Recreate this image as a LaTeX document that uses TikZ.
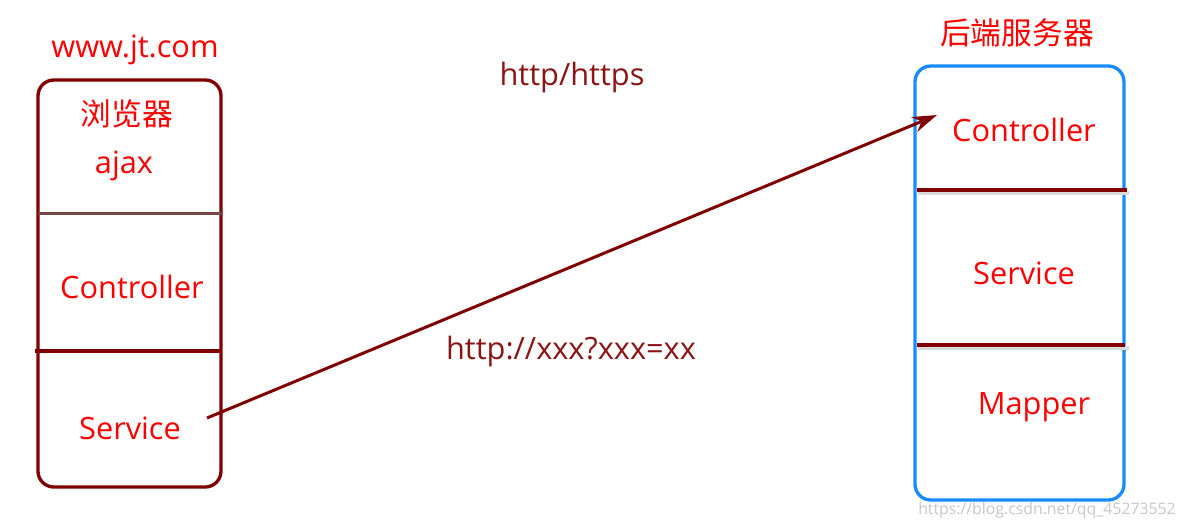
\documentclass[tikz,border=0pt]{standalone}
\usepackage{fontspec}
\setmainfont{Open Sans}
\newfontfamily\cjkfont{Noto Sans CJK SC}
\usetikzlibrary{arrows.meta}
\definecolor{darkred}{RGB}{128,0,0}
\definecolor{linkred}{RGB}{140,20,20}
\definecolor{sepgray}{RGB}{120,70,70}
\definecolor{srvblue}{RGB}{24,140,255}

\begin{document}
\begin{tikzpicture}[
    x=0.02cm, y=-0.02cm,
    lbl/.style={text=red, font=\fontsize{17.5}{21}\selectfont, inner sep=1pt},
    cn/.style={text=red, font=\cjkfont\fontsize{17.5}{21}\selectfont, inner sep=1pt},
    note/.style={text=linkred, font=\fontsize{17.5}{21}\selectfont, inner sep=1pt},
    box/.style={line width=1.9pt, rounded corners=9pt},
    sep/.style={draw=darkred, line width=1.9pt}
]
  \useasboundingbox (0,0) rectangle (1179,528);

  % 浏览器一侧
  \draw[box, darkred] (38,80) rectangle (221,487);
  \draw[line width=1.7pt, sepgray] (38,213) -- (223,213);
  \draw[sep] (35,351) -- (221,351);
  \node[lbl] (site) at (135,50) {www.jt.com};
  \node[cn] (browser) at (127,114) {浏览器};
  \node[lbl] (ajax) at (124,166) {ajax};
  \node[lbl] (bctrl) at (132,287) {Controller};
  \node[lbl] (bsvc) at (130,428) {Service};

  % 服务器一侧
  \draw[box, srvblue] (915,66) rectangle (1124,500);
  \draw[line width=2.2pt, black!15] (918,193) -- (1129,193);
  \draw[line width=2.2pt, black!15] (918,348) -- (1129,348);
  \draw[sep] (917,190) -- (1127,190);
  \draw[sep] (917,345) -- (1125,345);
  \node[cn] (server) at (1017,33) {后端服务器};
  \node[lbl] (sctrl) at (1024,130) {Controller};
  \node[lbl] (ssvc) at (1024,273) {Service};
  \node[lbl] (smapper) at (1034,407) {Mapper};

  % 请求
  \node[note] (proto) at (572,78) {http/https};
  \node[note] (url) at (571,352) {http://xxx?xxx=xx};
  \coordinate (from) at (207,418);
  \coordinate (to) at (937,115);
  \draw[-{Stealth[length=14pt, width=9pt]}, darkred, line width=1.7pt] (from) -- (to);

  \node[text=black!22, font=\fontsize{9}{11}\selectfont] (mark) at (1047,510) {https://blog.csdn.net/qq\_45273552};
\end{tikzpicture}
\end{document}
